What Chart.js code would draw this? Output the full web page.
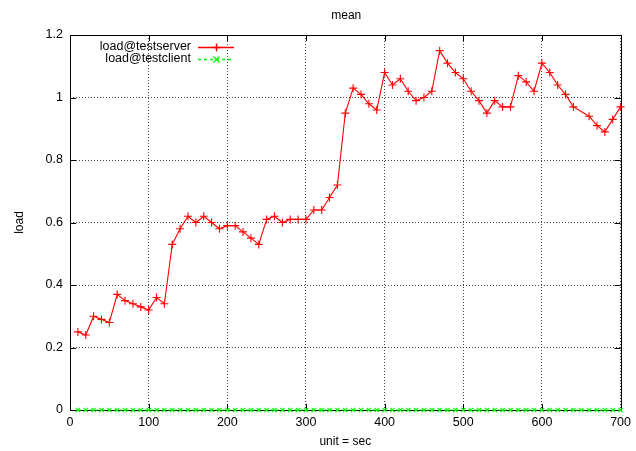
<!DOCTYPE html>
<html>
<head>
<meta charset="utf-8">
<script src="https://cdn.jsdelivr.net/npm/chart.js@4/dist/chart.umd.min.js"></script>
<style>
html,body{margin:0;padding:0;background:#fff;}
canvas{display:block;}
</style>
</head>
<body>
<canvas id="c" width="636" height="451"></canvas>
<script>
const chartTitle = "mean";
const xAxisTitle = "unit = sec";
const yAxisTitle = "load";
const seriesNames = ["load@testserver", "load@testclient"];

const serverTime = [10,20,30,40,50,60,70,80,90,100,110,120,130,140,150,160,170,180,190,200,
  210,220,230,240,250,260,270,280,290,300,310,320,330,340,350,360,370,380,390,400,
  410,420,430,440,450,460,470,480,490,500,510,520,530,540,550,560,570,580,590,600,
  610,620,630,640,660,670,680,690,700];
const serverLoad = [0.25,0.24,0.30,0.29,0.28,0.37,0.35,0.34,0.33,0.32,0.36,0.34,0.53,0.58,0.62,0.60,0.62,0.60,0.58,0.59,
  0.59,0.57,0.55,0.53,0.61,0.62,0.60,0.61,0.61,0.61,0.64,0.64,0.68,0.72,0.95,1.03,1.01,0.98,0.96,1.08,
  1.04,1.06,1.02,0.99,1.00,1.02,1.15,1.11,1.08,1.06,1.02,0.99,0.95,0.99,0.97,0.97,1.07,1.05,1.02,1.11,
  1.08,1.04,1.01,0.97,0.94,0.91,0.89,0.93,0.97];

const clientTime = [10,20,30,40,50,60,70,80,90,100,110,120,130,140,150,160,170,180,190,200,
  210,220,230,240,250,260,270,280,290,300,310,320,330,340,350,360,370,380,390,400,
  410,420,430,440,450,460,470,480,490,500,510,520,530,540,550,560,570,580,590,600,
  610,620,630,640,650,660,670,680,690,700];
const clientLoad = [0,0,0,0,0,0,0,0,0,0,0,0,0,0,0,0,0,0,0,0,
  0,0,0,0,0,0,0,0,0,0,0,0,0,0,0,0,0,0,0,0,
  0,0,0,0,0,0,0,0,0,0,0,0,0,0,0,0,0,0,0,0,
  0,0,0,0,0,0,0,0,0,0];

const xMin = 0, xMax = 700, xStep = 100;
const yMin = 0, yMax = 1.2, yStep = 0.2;

const FONT = "'Liberation Sans', Arial, Helvetica, sans-serif";
const RED = 'rgb(255,0,0)', GREEN = 'rgb(0,255,0)';

function pts(xs, ys){ return xs.map((x,i)=>({x:x, y:ys[i]})); }

function drawLegend(ctx){
  const rows = [
    {name: seriesNames[0], color: RED, dash: [], marker: 'plus', y: 47},
    {name: seriesNames[1], color: GREEN, dash: [3,3], marker: 'x', y: 59}
  ];
  rows.forEach(r=>{
    ctx.save();
    ctx.font = '12.5px ' + FONT;
    ctx.textAlign = 'right';
    ctx.textBaseline = 'middle';
    ctx.fillStyle = '#000';
    ctx.fillText(r.name, 191, r.y);
    ctx.strokeStyle = r.color;
    ctx.lineWidth = 1.4;
    ctx.setLineDash(r.dash);
    ctx.beginPath();
    ctx.moveTo(198, r.y + 0.5); ctx.lineTo(234, r.y + 0.5);
    ctx.stroke();
    ctx.setLineDash([]);
    ctx.beginPath();
    const cx = 216.5, cy = r.y + 0.5;
    if (r.marker === 'plus') {
      ctx.moveTo(cx-4, cy); ctx.lineTo(cx+4, cy);
      ctx.moveTo(cx, cy-4); ctx.lineTo(cx, cy+4);
    } else {
      ctx.moveTo(cx-3, cy-3); ctx.lineTo(cx+3, cy+3);
      ctx.moveTo(cx-3, cy+3); ctx.lineTo(cx+3, cy-3);
    }
    ctx.stroke();
    ctx.restore();
  });
}

const framePlugin = {
  id: 'frame',
  beforeDatasetsDraw(chart){
    const {ctx, chartArea:a, scales} = chart;
    ctx.save();
    ctx.strokeStyle = '#000';
    ctx.lineWidth = 1;
    ctx.setLineDash([]);
    ctx.strokeRect(Math.round(a.left)+0.5, Math.round(a.top)+0.5, Math.round(a.right-a.left), Math.round(a.bottom-a.top));
    const tl = 6;
    ctx.beginPath();
    scales.x.ticks.forEach(t=>{
      const px = Math.round(scales.x.getPixelForValue(t.value))+0.5;
      ctx.moveTo(px, a.bottom); ctx.lineTo(px, a.bottom - tl);
      ctx.moveTo(px, a.top); ctx.lineTo(px, a.top + tl);
    });
    scales.y.ticks.forEach(t=>{
      const py = Math.round(scales.y.getPixelForValue(t.value))+0.5;
      ctx.moveTo(a.left, py); ctx.lineTo(a.left + tl, py);
      ctx.moveTo(a.right, py); ctx.lineTo(a.right - tl, py);
    });
    ctx.stroke();
    ctx.restore();
  },
  afterDraw(chart){
    const {ctx, chartArea:a} = chart;
    ctx.save();
    ctx.fillStyle = '#000';
    ctx.font = '12px ' + FONT;
    ctx.textAlign = 'center';
    ctx.textBaseline = 'middle';
    ctx.fillText(chartTitle, (a.left + a.right)/2 + 1, 16);
    ctx.restore();
    drawLegend(ctx);
  }
};

function fmt(v){ return String(Math.round(v*10)/10); }

new Chart(document.getElementById('c'), {
  type: 'line',
  data: {
    datasets: [
      {
        label: seriesNames[0],
        data: pts(serverTime, serverLoad),
        borderColor: RED,
        backgroundColor: RED,
        borderWidth: 1.1,
        pointStyle: 'cross',
        pointRadius: 4,
        pointBorderWidth: 1.1,
        pointBorderColor: RED,
        tension: 0,
        fill: false,
        clip: false,
        order: 1
      },
      {
        label: seriesNames[1],
        data: pts(clientTime, clientLoad),
        borderColor: GREEN,
        backgroundColor: GREEN,
        borderWidth: 1,
        borderDash: [3,3],
        pointStyle: 'crossRot',
        pointRadius: 3,
        pointBorderWidth: 1.2,
        pointBorderColor: GREEN,
        tension: 0,
        fill: false,
        clip: false,
        order: 0
      }
    ]
  },
  options: {
    responsive: false,
    animation: false,
    devicePixelRatio: 1,
    layout: { padding: { left: 0, top: 35, right: 14, bottom: 0 } },
    plugins: {
      legend: { display: false },
      title: { display: false },
      tooltip: { enabled: false }
    },
    scales: {
      x: {
        type: 'linear',
        min: xMin, max: xMax,
        ticks: { stepSize: xStep, color: '#000', font: { family: FONT, size: 12.5 }, padding: 5, maxRotation: 0, callback: fmt },
        grid: { color: 'rgba(0,0,0,0.75)', lineWidth: 1, drawTicks: false },
        border: { display: false, dash: [1,2] },
        title: { display: true, text: xAxisTitle, color: '#000', font: { family: FONT, size: 12 }, padding: { top: 0, bottom: 2 } },
        afterFit(s){ s.height = 41; }
      },
      y: {
        type: 'linear',
        min: yMin, max: yMax,
        ticks: { stepSize: yStep, color: '#000', font: { family: FONT, size: 12.5 }, padding: 7, callback: fmt },
        grid: { color: 'rgba(0,0,0,0.75)', lineWidth: 1, drawTicks: false },
        border: { display: false, dash: [1,2] },
        title: { display: true, text: yAxisTitle, color: '#000', font: { family: FONT, size: 12 }, padding: { top: 12, bottom: 0 } },
        afterFit(s){ s.width = 70; }
      }
    }
  },
  plugins: [framePlugin]
});
</script>
</body>
</html>
